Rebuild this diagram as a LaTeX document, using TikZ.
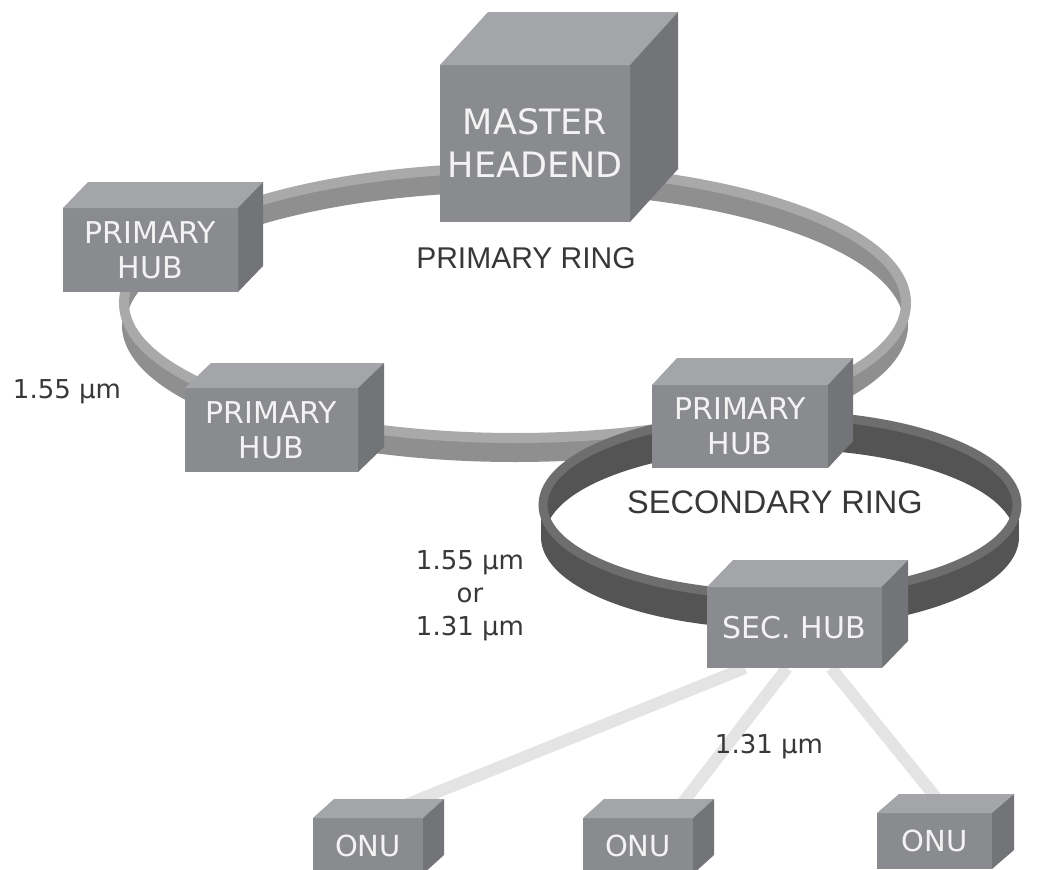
\documentclass[tikz,border=0pt]{standalone}
\usepackage{fontspec}
\setmainfont{DejaVu Sans}
\newfontfamily\arialf{Liberation Sans}
\usetikzlibrary{calc}
\definecolor{frontc}{HTML}{8A8B8F}
\definecolor{topc}{HTML}{A4A5A9}
\definecolor{sidec}{HTML}{737478}
\definecolor{rimP}{HTML}{A9A9A9}
\definecolor{wallP}{HTML}{8F8F8F}
\definecolor{rimS}{HTML}{6E6E6E}
\definecolor{wallS}{HTML}{545454}
\definecolor{fiber}{HTML}{E4E4E4}
\definecolor{labelc}{HTML}{383838}
\definecolor{boxtext}{HTML}{F3F3F3}
% name, x, y, width, height, depth dx, depth dy, style, text
\newcommand\cubebox[9]{%
  \node[frontface, #8, minimum width=#4pt, minimum height=#5pt] (#1) at (#2,#3) {#9};
  \fill[topc] (#1.north west) -- ($(#1.north west)+(#6,-#7)$) -- ($(#1.north east)+(#6,-#7)$) -- (#1.north east) -- cycle;
  \fill[sidec] (#1.north east) -- ($(#1.north east)+(#6,-#7)$) -- ($(#1.south east)+(#6,-#7)$) -- (#1.south east) -- cycle;
}
\begin{document}
\begin{tikzpicture}[x=1pt,y=-1pt,
  frontface/.style={fill=frontc, inner sep=0pt, outer sep=0pt, text=boxtext, align=center},
  hubtext/.style={font=\fontsize{30}{35}\selectfont},
  bigtext/.style={font=\fontsize{35}{43}\selectfont},
  onutext/.style={font=\fontsize{29}{34}\selectfont},
  wavelabel/.style={text=labelc, align=center, font=\fontsize{26}{33}\selectfont},
  ringlabel/.style={text=labelc, font=\arialf\fontsize{30}{36}\selectfont},
  fiberline/.style={draw=fiber, line width=12pt}]
\useasboundingbox (0,0) rectangle (1042,870);
\fill[white] (0,0) rectangle (1042,870);

% primary ring
\foreach \d in {0,2,...,22} {
  \draw[wallP, line width=4pt] (515,{303+\d}) ellipse [x radius=391pt, y radius=135pt];
}
\draw[rimP, line width=10pt] (515,303) ellipse [x radius=391pt, y radius=135pt];

% secondary ring
\foreach \d in {0,2,...,32} {
  \draw[wallS, line width=4pt] (780,{505+\d}) ellipse [x radius=237pt, y radius=90pt];
}
\draw[rimS, line width=9pt] (780,505) ellipse [x radius=237pt, y radius=90pt];

% ring labels
\node[ringlabel] (prlabel) at (526,258) {PRIMARY RING};
\node[ringlabel, font=\arialf\fontsize{32.5}{38}\selectfont] (srlabel) at (775,502) {SECONDARY RING};

% boxes on rings
\cubebox{master}{535}{143.5}{190}{157}{48}{53}{bigtext}{MASTER\\HEADEND}
\cubebox{hubA}{150.5}{250}{175}{84}{25}{26}{hubtext}{PRIMARY\\HUB}
\cubebox{hubB}{271.5}{430}{173}{84}{26}{25}{hubtext}{PRIMARY\\HUB}
\cubebox{hubC}{740}{426.5}{176}{83}{25}{27}{hubtext}{PRIMARY\\HUB}

% fibers to ONUs
\coordinate (s1) at (745,668);
\coordinate (s2) at (787,668);
\coordinate (s3) at (831,668);
\coordinate (e1) at (393,810);
\coordinate (e2) at (681,805);
\coordinate (e3) at (938,800);
\draw[fiberline] (s1) -- (e1);
\draw[fiberline] (s2) -- (e2);
\draw[fiberline] (s3) -- (e3);

% wavelength labels
\node[wavelabel] (w1) at (67,392) {1.55 µm};
\node[wavelabel] (w2) at (470,596) {1.55 µm\\or\\1.31 µm};
\node[wavelabel] (w3) at (769,747) {1.31 µm};

\cubebox{sec}{794.5}{627.5}{175}{81}{26}{27}{hubtext}{SEC. HUB}
\cubebox{onuA}{368}{846}{110}{56}{21}{19}{onutext}{ONU}
\cubebox{onuB}{638}{846}{110}{56}{21}{19}{onutext}{ONU}
\cubebox{onuC}{934.5}{841}{115}{56}{22}{19}{onutext}{ONU}
\end{tikzpicture}
\end{document}
